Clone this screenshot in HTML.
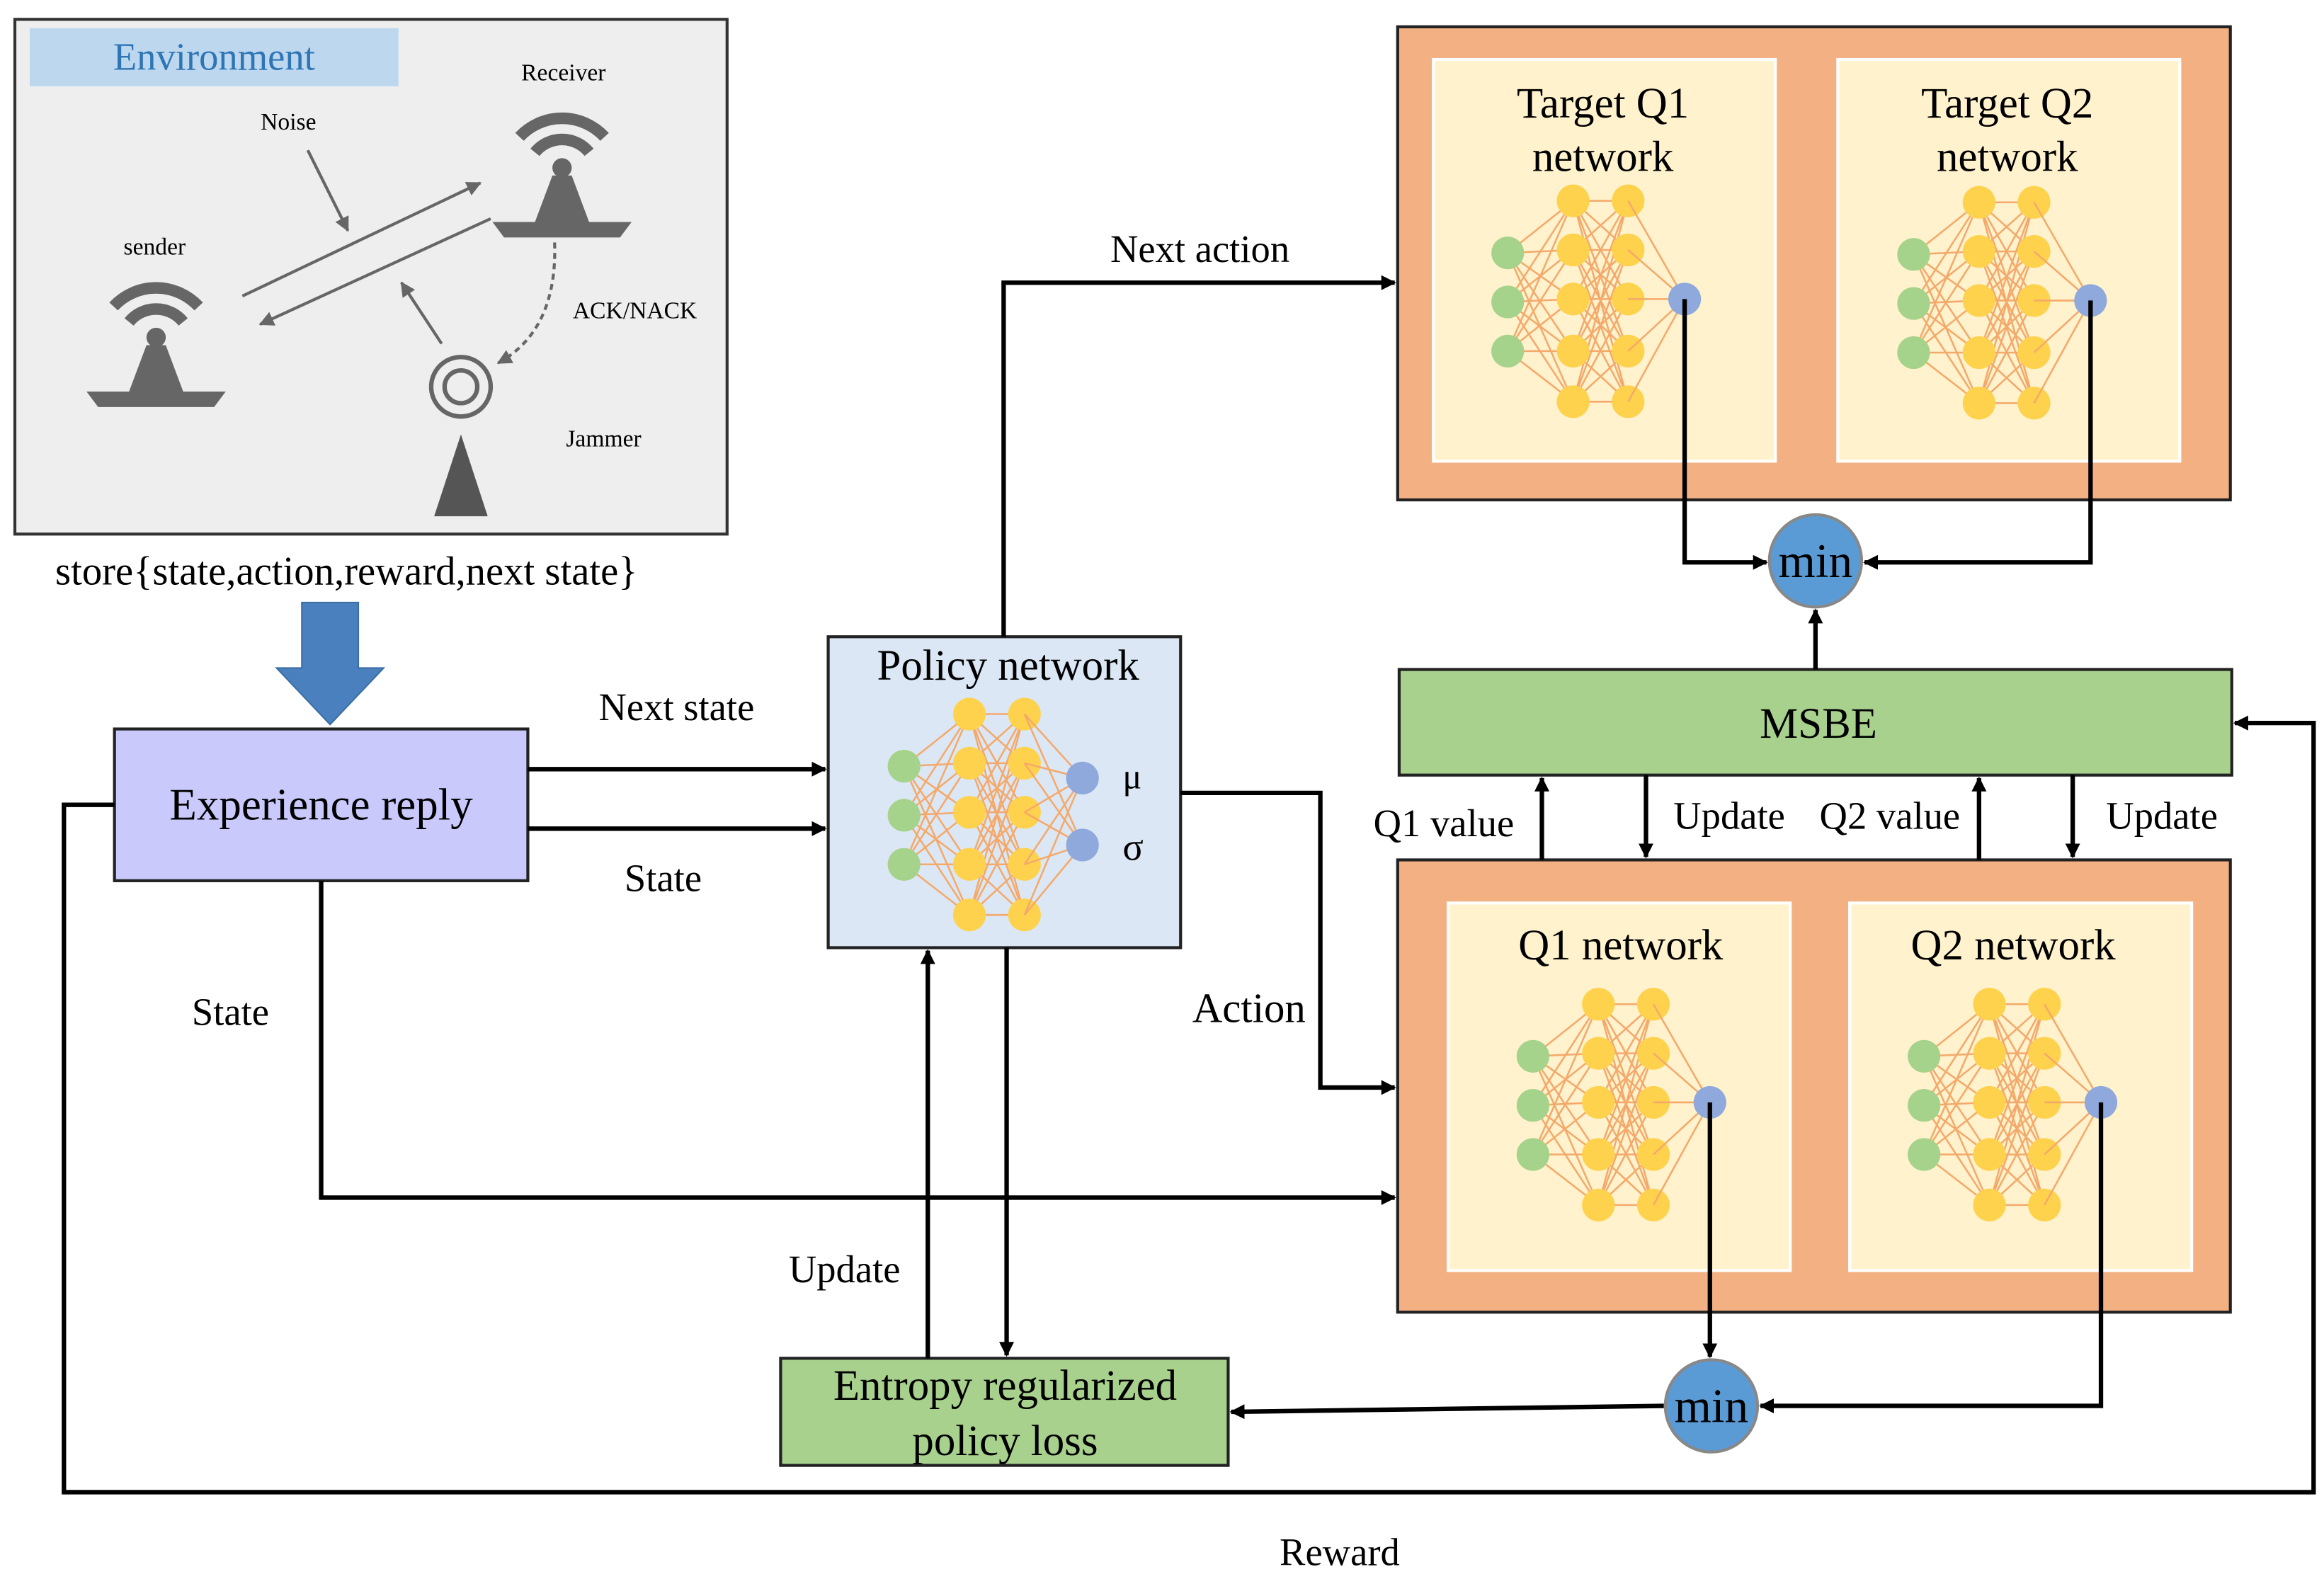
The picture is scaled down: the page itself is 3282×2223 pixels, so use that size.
<!DOCTYPE html>
<html><head><meta charset="utf-8"><style>html,body{margin:0;padding:0;background:#fff}svg{display:block}</style></head><body>
<svg width="3282" height="2223" viewBox="0 0 1563 1058" preserveAspectRatio="none" xmlns="http://www.w3.org/2000/svg" font-family="Liberation Serif, serif">
<defs>
<marker id="a" markerWidth="10" markerHeight="10" refX="9" refY="5" orient="auto" markerUnits="userSpaceOnUse"><path d="M0,0 L10,5 L0,10 z" fill="#000"/></marker>
<marker id="g" markerWidth="10" markerHeight="10" refX="9" refY="5" orient="auto" markerUnits="userSpaceOnUse"><path d="M0,0 L10,5 L0,10 z" fill="#666"/></marker>
<g id="net">
<g stroke="#f4a96b" stroke-width="1.2">
<path d="M0,35L44,0M0,35L44,33M0,35L44,66M0,35L44,101M0,35L44,135M0,68L44,0M0,68L44,33M0,68L44,66M0,68L44,101M0,68L44,135M0,101L44,0M0,101L44,33M0,101L44,66M0,101L44,101M0,101L44,135"/>
<path d="M44,0L81,0M44,0L81,33M44,0L81,66M44,0L81,101M44,0L81,135M44,33L81,0M44,33L81,33M44,33L81,66M44,33L81,101M44,33L81,135M44,66L81,0M44,66L81,33M44,66L81,66M44,66L81,101M44,66L81,135M44,101L81,0M44,101L81,33M44,101L81,66M44,101L81,101M44,101L81,135M44,135L81,0M44,135L81,33M44,135L81,66M44,135L81,101M44,135L81,135"/>
</g>
<g fill="#a6d38b"><circle cx="0" cy="35" r="11"/><circle cx="0" cy="68" r="11"/><circle cx="0" cy="101" r="11"/></g>
<g fill="#ffd24d"><circle cx="44" cy="0" r="11"/><circle cx="44" cy="33" r="11"/><circle cx="44" cy="66" r="11"/><circle cx="44" cy="101" r="11"/><circle cx="44" cy="135" r="11"/><circle cx="81" cy="0" r="11"/><circle cx="81" cy="33" r="11"/><circle cx="81" cy="66" r="11"/><circle cx="81" cy="101" r="11"/><circle cx="81" cy="135" r="11"/></g>
</g>
<g id="qnet"><use href="#net"/><path d="M81,0L119,66M81,33L119,66M81,66L119,66M81,101L119,66M81,135L119,66" stroke="#f4a96b" stroke-width="1.2"/><circle cx="119" cy="66" r="11" fill="#8fa9dc"/></g>
<g id="ant" fill="#666"><path d="M-22,-20 A30,30 0 0 1 22,-20" fill="none" stroke="#666" stroke-width="6"/><path d="M-14,-12 A18,18 0 0 1 14,-12" fill="none" stroke="#666" stroke-width="6"/><circle cx="0" cy="-4" r="5"/><path d="M-5,0 L5,0 L14,24 L-14,24z"/><path d="M-36,24 L36,24 L30,32 L-30,32z"/></g>
</defs>

<rect x="10" y="13" width="479" height="346" fill="#eeeeee" stroke="#333" stroke-width="2"/>
<rect x="20" y="19" width="248" height="39" fill="#bcd7ee"/>
<text x="144" y="47" font-size="26" fill="#2e75b6" text-anchor="middle">Environment</text>
<text x="379" y="54" font-size="16" text-anchor="middle">Receiver</text>
<text x="194" y="87" font-size="16" text-anchor="middle">Noise</text>
<text x="104" y="171" font-size="16" text-anchor="middle">sender</text>
<text x="427" y="214" font-size="16" text-anchor="middle">ACK/NACK</text>
<text x="406" y="300" font-size="16" text-anchor="middle">Jammer</text>
<use href="#ant" transform="translate(378,118) scale(1.3)"/>
<use href="#ant" transform="translate(105,232) scale(1.3)"/>
<g stroke="#666" stroke-width="2" fill="none">
<line x1="163" y1="199" x2="323" y2="123" marker-end="url(#g)"/>
<line x1="330" y1="147" x2="175" y2="218" marker-end="url(#g)"/>
<line x1="207" y1="101" x2="234" y2="155" marker-end="url(#g)"/>
<line x1="297" y1="231" x2="270" y2="190" marker-end="url(#g)"/>
<path d="M373,163 Q375,222 335,244" stroke-dasharray="4,3" marker-end="url(#g)"/>
<circle cx="310" cy="260" r="20" stroke-width="3"/><circle cx="310" cy="260" r="11" stroke-width="3"/>
</g>
<path d="M310,292 L328,347 L292,347z" fill="#555"/>

<text x="233" y="393" font-size="27" text-anchor="middle">store{state,action,reward,next state}</text>
<path d="M203,405 L241,405 L241,449 L258,449 L222,487 L186,449 L203,449z" fill="#4a80bd" stroke="#3a6ea5"/>

<rect x="77" y="490" width="278" height="102" fill="#c9c9fb" stroke="#222" stroke-width="2"/>
<text x="216" y="551" font-size="30" text-anchor="middle">Experience reply</text>

<rect x="557" y="428" width="237" height="209" fill="#dbe7f4" stroke="#222" stroke-width="2"/>
<text x="678" y="457" font-size="29" text-anchor="middle">Policy network</text>
<use href="#net" x="608" y="480"/>
<path d="M689,480L728,523M689,513L728,523M689,546L728,523M689,581L728,523M689,615L728,523M689,480L728,568M689,513L728,568M689,546L728,568M689,581L728,568M689,615L728,568" stroke="#f4a96b" stroke-width="1.2"/>
<circle cx="728" cy="523" r="11" fill="#8fa9dc"/><circle cx="728" cy="568" r="11" fill="#8fa9dc"/>
<text x="755" y="530" font-size="24">μ</text><text x="755" y="578" font-size="26">σ</text>

<rect x="940" y="18" width="560" height="318" fill="#f3b183" stroke="#222" stroke-width="2"/>
<rect x="964" y="40" width="230" height="270" fill="#fff2cc" stroke="#fff" stroke-width="2"/>
<rect x="1236" y="40" width="230" height="270" fill="#fff2cc" stroke="#fff" stroke-width="2"/>
<text x="1078" y="79" font-size="29" text-anchor="middle">Target Q1</text><text x="1078" y="115" font-size="29" text-anchor="middle">network</text>
<text x="1350" y="79" font-size="29" text-anchor="middle">Target Q2</text><text x="1350" y="115" font-size="29" text-anchor="middle">network</text>
<use href="#qnet" x="1014" y="135"/>
<use href="#qnet" x="1287" y="136"/>

<rect x="940" y="578" width="560" height="304" fill="#f3b183" stroke="#222" stroke-width="2"/>
<rect x="974" y="607" width="230" height="247" fill="#fff2cc" stroke="#fff" stroke-width="2"/>
<rect x="1244" y="607" width="230" height="247" fill="#fff2cc" stroke="#fff" stroke-width="2"/>
<text x="1090" y="645" font-size="29" text-anchor="middle">Q1 network</text>
<text x="1354" y="645" font-size="29" text-anchor="middle">Q2 network</text>
<use href="#qnet" x="1031" y="675"/>
<use href="#qnet" x="1294" y="675"/>

<rect x="941" y="450" width="560" height="71" fill="#a9d18e" stroke="#222" stroke-width="2"/>
<text x="1223" y="496" font-size="29" text-anchor="middle">MSBE</text>

<rect x="525" y="913" width="301" height="72" fill="#a9d18e" stroke="#222" stroke-width="2"/>
<text x="676" y="941" font-size="29" text-anchor="middle">Entropy regularized</text>
<text x="676" y="978" font-size="29" text-anchor="middle">policy loss</text>

<circle cx="1221" cy="377" r="31" fill="#5b9bd5" stroke="#888" stroke-width="2"/>
<text x="1221" y="388" font-size="32" text-anchor="middle">min</text>
<circle cx="1151" cy="945" r="31" fill="#5b9bd5" stroke="#888" stroke-width="2"/>
<text x="1151" y="956" font-size="32" text-anchor="middle">min</text>

<g stroke="#000" stroke-width="3" fill="none">
<path d="M675,428 L675,190 L938,190" marker-end="url(#a)"/>
<path d="M355,517 L555,517" marker-end="url(#a)"/>
<path d="M355,557 L555,557" marker-end="url(#a)"/>
<path d="M794,533 L888,533 L888,731 L938,731" marker-end="url(#a)"/>
<path d="M216,592 L216,805 L938,805" marker-end="url(#a)"/>
<path d="M77,541 L43,541 L43,1003 L1556,1003 L1556,486 L1503,486" marker-end="url(#a)"/>
<path d="M1133,201 L1133,378 L1188,378" marker-end="url(#a)"/>
<path d="M1406,202 L1406,378 L1254,378" marker-end="url(#a)"/>
<path d="M1221,450 L1221,410" marker-end="url(#a)"/>
<path d="M1037,578 L1037,523" marker-end="url(#a)"/>
<path d="M1331,578 L1331,523" marker-end="url(#a)"/>
<path d="M1107,521 L1107,576" marker-end="url(#a)"/>
<path d="M1394,521 L1394,576" marker-end="url(#a)"/>
<path d="M1150,741 L1150,912" marker-end="url(#a)"/>
<path d="M1413,741 L1413,945 L1184,945" marker-end="url(#a)"/>
<path d="M1119,945 L828,949" marker-end="url(#a)"/>
<path d="M624,913 L624,639" marker-end="url(#a)"/>
<path d="M677,637 L677,911" marker-end="url(#a)"/>
</g>

<g font-size="26">
<text x="807" y="176" text-anchor="middle">Next action</text>
<text x="455" y="484" text-anchor="middle">Next state</text>
<text x="446" y="599" text-anchor="middle">State</text>
<text x="155" y="689" text-anchor="middle">State</text>
<text x="840" y="687" text-anchor="middle" font-size="28">Action</text>
<text x="568" y="862" text-anchor="middle">Update</text>
<text x="971" y="562" text-anchor="middle">Q1 value</text>
<text x="1163" y="557" text-anchor="middle">Update</text>
<text x="1271" y="557" text-anchor="middle">Q2 value</text>
<text x="1454" y="557" text-anchor="middle">Update</text>
<text x="901" y="1052" text-anchor="middle">Reward</text>
</g>
</svg>
</body></html>
